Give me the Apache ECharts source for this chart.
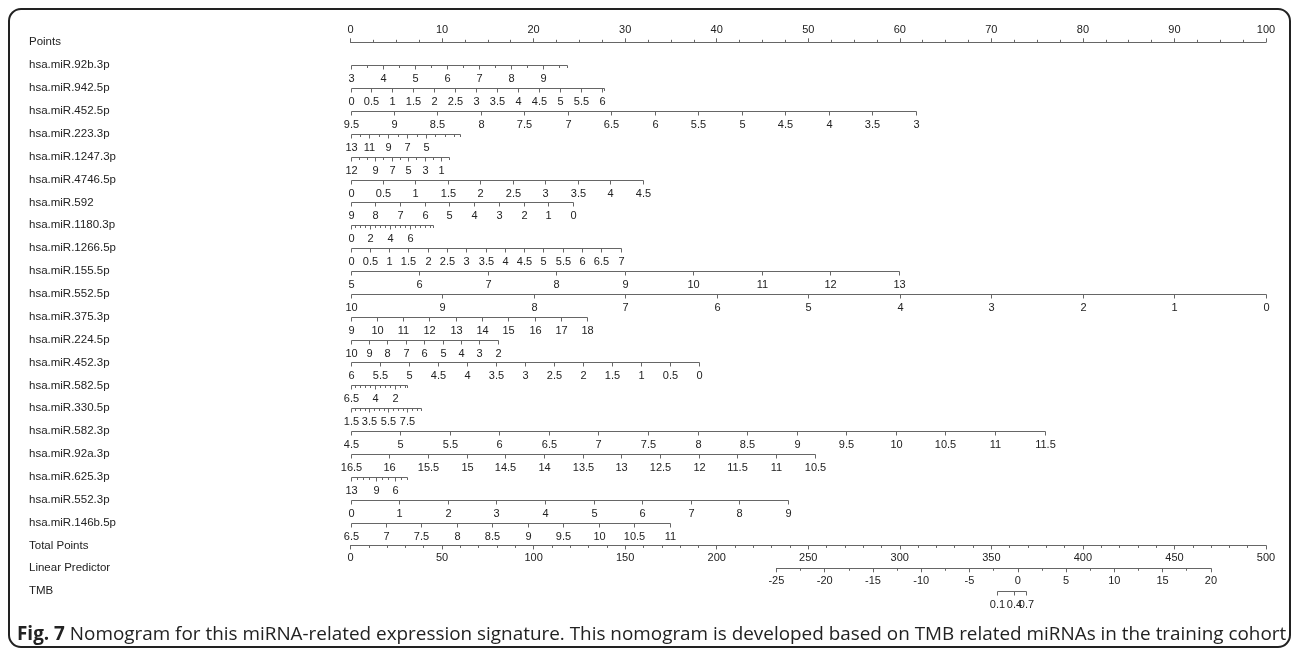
<!DOCTYPE html>
<html><head><meta charset="utf-8">
<script src="https://cdn.jsdelivr.net/npm/echarts@6/dist/echarts.min.js"></script>
<style>html,body{margin:0;padding:0;background:#fff}#c{width:1292px;height:651px}</style>
</head><body><div id="c"></div>
<script>
// ---------- data ----------
const rowNames = ['Points','hsa.miR.92b.3p','hsa.miR.942.5p','hsa.miR.452.5p','hsa.miR.223.3p','hsa.miR.1247.3p','hsa.miR.4746.5p','hsa.miR.592','hsa.miR.1180.3p','hsa.miR.1266.5p','hsa.miR.155.5p','hsa.miR.552.5p','hsa.miR.375.3p','hsa.miR.224.5p','hsa.miR.452.3p','hsa.miR.582.5p','hsa.miR.330.5p','hsa.miR.582.3p','hsa.miR.92a.3p','hsa.miR.625.3p','hsa.miR.552.3p','hsa.miR.146b.5p','Total Points'];
const bottomNames = ['Linear Predictor','TMB'];
// value of each miRNA that scores 0 points
const varZero = [3, 0, 9.5, 13, 12, 0, 9, 0, 0, 5, 10, 9, 10, 6, 6.5, 1.5, 4.5, 16.5, 13, 0, 6.5];
// points per unit of expression (sign = direction)
const varCoef = [3.5, 4.58, -9.5, -1.03, -0.901, 7.09, -2.70, 1.087, 4.215, 7.49, -10, 2.873, -2.01, -6.35, -1.08, 1.034, 10.83, -8.45, -0.688, 5.31, 7.755];
// far end of each scale
const varEnd = [9.76, 6.05, 3, 1.4, 0, 4.5, 0, 8.3, 7, 13, 0, 18, 2, 0, 0.8, 8.9, 11.5, 10.5, 4, 9, 11];
// spacing of tick marks
const varTickStep = [0.5, 0.5, 0.5, 1, 1, 0.5, 1, 0.5, 0.5, 1, 1, 1, 1, 0.5, 0.5, 0.5, 0.5, 0.5, 1, 1, 0.5];
// labelled values
const varLabels = [
  [3,4,5,6,7,8,9],
  [0,0.5,1,1.5,2,2.5,3,3.5,4,4.5,5,5.5,6],
  [9.5,9,8.5,8,7.5,7,6.5,6,5.5,5,4.5,4,3.5,3],
  [13,11,9,7,5],
  [12,9,7,5,3,1],
  [0,0.5,1,1.5,2,2.5,3,3.5,4,4.5],
  [9,8,7,6,5,4,3,2,1,0],
  [0,2,4,6],
  [0,0.5,1,1.5,2,2.5,3,3.5,4,4.5,5,5.5,6,6.5,7],
  [5,6,7,8,9,10,11,12,13],
  [10,9,8,7,6,5,4,3,2,1,0],
  [9,10,11,12,13,14,15,16,17,18],
  [10,9,8,7,6,5,4,3,2],
  [6,5.5,5,4.5,4,3.5,3,2.5,2,1.5,1,0.5,0],
  [6.5,4,2],
  [1.5,3.5,5.5,7.5],
  [4.5,5,5.5,6,6.5,7,7.5,8,8.5,9,9.5,10,10.5,11,11.5],
  [16.5,16,15.5,15,14.5,14,13.5,13,12.5,12,11.5,11,10.5],
  [13,9,6],
  [0,1,2,3,4,5,6,7,8,9],
  [6.5,7,7.5,8,8.5,9,9.5,10,10.5,11]
];
const pointsMax = 100;
const totalPointsMax = 500;
const lpMin = -25, lpMax = 20;           // linear predictor scale
const lpTotalAtMin = 232.6, lpTotalAtMax = 469.9; // total points under LP ends
const tmbProbs = [0.1, 0.4, 0.7];
// ---------------------------------------------------

const LINE = '#666', TXT = '#222', FAM = 'Liberation Sans';
const tickItems = [], tickTexts = [], lineItems = [];
for (let j = 0; j < varZero.length; j++) {
  const row = j + 1;
  const toPts = v => (v - varZero[j]) * varCoef[j];
  lineItems.push([0, toPts(varEnd[j]), row]);
  const dir = varEnd[j] > varZero[j] ? 1 : -1;
  const step = varTickStep[j];
  const n = Math.floor(Math.abs(varEnd[j] - varZero[j]) / step + 1e-6);
  const vals = [];
  for (let k = 0; k <= n; k++) vals.push(+(varZero[j] + dir * k * step).toFixed(4));
  if (Math.abs(vals[vals.length - 1] - varEnd[j]) > 1e-6) vals.push(varEnd[j]);
  vals.forEach(v => {
    const lab = varLabels[j].some(l => Math.abs(l - v) < 1e-6);
    tickItems.push([toPts(v), row, lab ? 1 : 0]);
    tickTexts.push(lab ? String(v) : '');
  });
}
const tmbLP = tmbProbs.map(p => Math.log(p / (1 - p)));
const tmbTicks = tmbLP.map(v => [v, 1, 1]);
const tmbTexts = tmbProbs.map(String);

function snap(v) { return Math.round(v) + 0.5; }
function tickRender(texts) {
  return function (params, api) {
    const p = api.coord([api.value(0), api.value(1)]);
    const x = snap(p[0]), y = snap(p[1]);
    const major = api.value(2) === 1;
    const len = major ? 4 : 2.5;
    const ch = [{ type: 'line', shape: { x1: x, y1: y, x2: x, y2: y + len }, style: { stroke: LINE, lineWidth: 1 } }];
    const t = texts[params.dataIndex];
    if (t) ch.push({ type: 'text', x: x, y: y + 13, style: { text: t, fill: TXT, fontSize: 11, fontFamily: FAM, align: 'center', verticalAlign: 'middle' } });
    return { type: 'group', children: ch };
  };
}
function lineRender(params, api) {
  const a = api.coord([api.value(0), api.value(2)]);
  const b = api.coord([api.value(1), api.value(2)]);
  const y = snap(a[1]);
  return { type: 'line', shape: { x1: snap(a[0]), y1: y, x2: snap(b[0]), y2: y }, style: { stroke: LINE, lineWidth: 1 } };
}

const ROW0 = 42.3, ROWH = 22.87, X0 = 350.5, XW = 915.5;
const lpLeft = X0 + lpTotalAtMin / totalPointsMax * XW;
const lpWidth = (lpTotalAtMax - lpTotalAtMin) / totalPointsMax * XW;

const chart = echarts.init(document.getElementById('c'), null, { renderer: 'canvas' });
chart.setOption({
  animation: false,
  backgroundColor: '#fff',
  textStyle: { fontFamily: FAM },
  grid: [
    { left: X0, width: XW, top: ROW0, height: ROWH * 22, containLabel: false, outerBoundsMode: 'none' },
    { left: lpLeft, width: lpWidth, top: ROW0 + ROWH * 23, height: ROWH, containLabel: false, outerBoundsMode: 'none' }
  ],
  xAxis: [
    { type: 'value', gridIndex: 0, position: 'top', min: 0, max: pointsMax, interval: 10,
      axisLine: { show: true, lineStyle: { color: LINE } },
      axisTick: { show: true, length: 4, lineStyle: { color: LINE } },
      minorTick: { show: true, splitNumber: 4, length: 2.5, lineStyle: { color: LINE } },
      axisLabel: { color: TXT, fontSize: 11, fontFamily: FAM, margin: 7 },
      splitLine: { show: false }, minorSplitLine: { show: false } },
    { type: 'value', gridIndex: 0, position: 'bottom', min: 0, max: totalPointsMax, interval: 50,
      axisLine: { show: true, lineStyle: { color: LINE } },
      axisTick: { show: true, length: 4, lineStyle: { color: LINE } },
      minorTick: { show: true, splitNumber: 5, length: 2.5, lineStyle: { color: LINE } },
      axisLabel: { color: TXT, fontSize: 11, fontFamily: FAM, margin: 7 },
      splitLine: { show: false }, minorSplitLine: { show: false } },
    { type: 'value', gridIndex: 1, position: 'top', min: lpMin, max: lpMax, interval: 5,
      axisLine: { show: true, lineStyle: { color: LINE } },
      axisTick: { show: true, inside: true, length: 4, lineStyle: { color: LINE } },
      minorTick: { show: true, splitNumber: 2, length: 2.5, lineStyle: { color: LINE } },
      axisLabel: { inside: true, color: TXT, fontSize: 11, fontFamily: FAM, margin: 7 },
      splitLine: { show: false }, minorSplitLine: { show: false } }
  ],
  yAxis: [
    { type: 'category', gridIndex: 0, data: rowNames, inverse: true, boundaryGap: false,
      axisLine: { show: false }, axisTick: { show: false }, splitLine: { show: false },
      axisLabel: { align: 'left', margin: X0 - 29, color: TXT, fontSize: 11.5, fontFamily: FAM, interval: 0 } },
    { type: 'category', gridIndex: 1, data: bottomNames, inverse: true, boundaryGap: false,
      axisLine: { show: false }, axisTick: { show: false }, splitLine: { show: false },
      axisLabel: { align: 'left', margin: lpLeft - 29, color: TXT, fontSize: 11.5, fontFamily: FAM, interval: 0 } }
  ],
  title: {
    text: '{b|Fig. 7} Nomogram for this miRNA-related expression signature. This nomogram is developed based on TMB related miRNAs in the training cohort',
    left: 12, top: 620,
    textStyle: { fontFamily: 'Open Sans', fontSize: 18.9, fontWeight: 'normal', color: '#222',
      rich: { b: { fontFamily: 'Open Sans', fontSize: 18.9, fontWeight: 'bold', color: '#222' } } }
  },
  graphic: [
    { type: 'rect', shape: { x: 9, y: 9, width: 1281, height: 638, r: 12 }, style: { fill: 'none', stroke: '#222', lineWidth: 2 }, silent: true, z: 100 }
  ],
  series: [
    { type: 'custom', xAxisIndex: 0, yAxisIndex: 0, renderItem: lineRender, data: lineItems, encode: { x: [0, 1], y: 2 }, clip: false, silent: true },
    { type: 'custom', xAxisIndex: 0, yAxisIndex: 0, renderItem: tickRender(tickTexts), data: tickItems, encode: { x: 0, y: 1 }, clip: false, silent: true },
    { type: 'custom', xAxisIndex: 2, yAxisIndex: 1, renderItem: lineRender, data: [[tmbLP[0], tmbLP[tmbLP.length - 1], 1]], encode: { x: [0, 1], y: 2 }, clip: false, silent: true },
    { type: 'custom', xAxisIndex: 2, yAxisIndex: 1, renderItem: tickRender(tmbTexts), data: tmbTicks, encode: { x: 0, y: 1 }, clip: false, silent: true }
  ]
});
</script></body></html>
